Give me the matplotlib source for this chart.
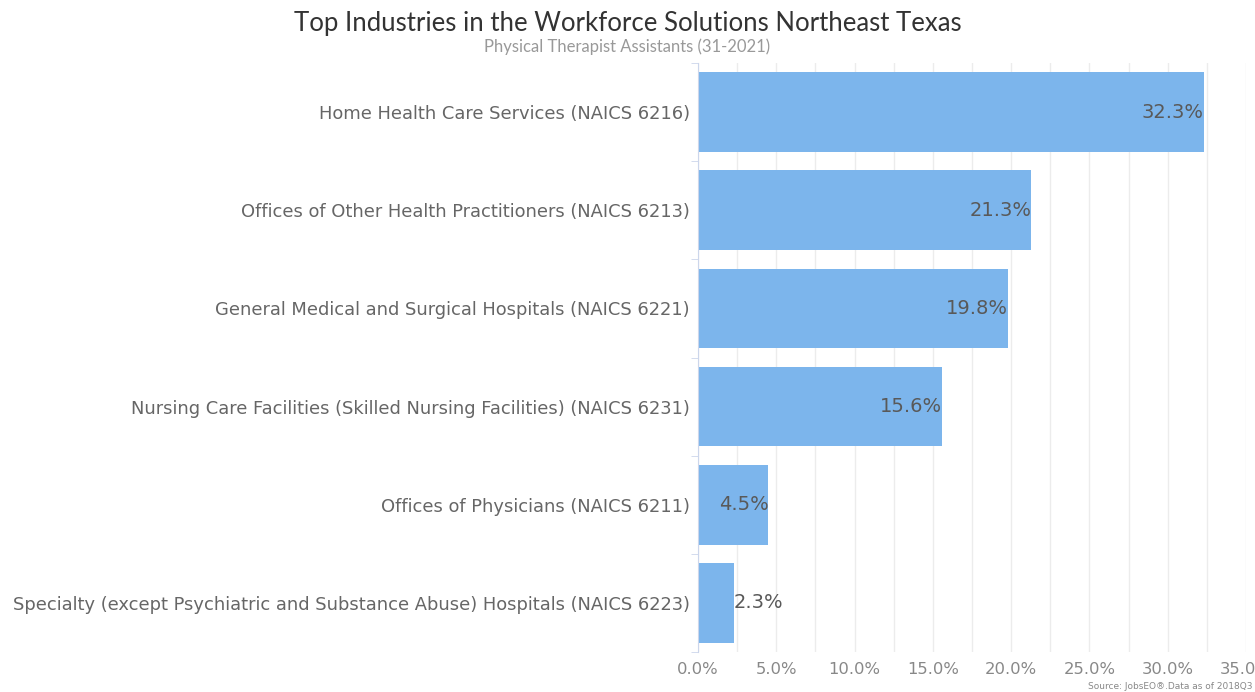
import matplotlib.pyplot as plt
from matplotlib.ticker import MultipleLocator, FuncFormatter

# data
industries = [
    "Home Health Care Services (NAICS 6216)",
    "Offices of Other Health Practitioners (NAICS 6213)",
    "General Medical and Surgical Hospitals (NAICS 6221)",
    "Nursing Care Facilities (Skilled Nursing Facilities) (NAICS 6231)",
    "Offices of Physicians (NAICS 6211)",
    "Specialty (except Psychiatric and Substance Abuse) Hospitals (NAICS 6223)",
]
shares = [32.3, 21.3, 19.8, 15.6, 4.5, 2.3]

bar_color = "#7cb5ec"
txt = "#666666"

fig = plt.figure(figsize=(12.55, 6.92), dpi=100)
ax = fig.add_axes([698 / 1255, 1 - 652 / 692, (1246 - 698) / 1255, (652 - 63) / 692])

ypos = list(range(len(shares)))
ax.barh(ypos, shares, height=0.81, color=bar_color, zorder=2)
ax.set_ylim(len(shares) - 0.5, -0.5)
ax.set_xlim(0, 35)

ax.set_yticks(ypos)
ax.set_yticklabels(industries, fontsize=12.9, color=txt)
ax.tick_params(axis="y", length=0, pad=6)
# small tick marks at band edges
ax.set_yticks([i - 0.5 for i in range(len(shares) + 1)], minor=True)
ax.tick_params(axis="y", which="minor", length=5, color="#ccd6eb")

ax.xaxis.set_major_locator(MultipleLocator(5))
ax.xaxis.set_minor_locator(MultipleLocator(2.5))
ax.xaxis.set_major_formatter(FuncFormatter(lambda v, p: f"{v:.1f}%"))
ax.tick_params(axis="x", which="both", length=0, labelsize=11.8, labelcolor="#888888", pad=7)
ax.grid(axis="x", which="both", color="#ececec", linewidth=1, zorder=0)

for s in ["top", "right", "bottom"]:
    ax.spines[s].set_visible(False)
ax.spines["left"].set_color("#ccd6eb")

for y, v in zip(ypos, shares):
    lab = f"{v:.1f}%"
    if v > 4:
        ax.text(v, y, lab, ha="right", va="center", fontsize=14, color="#595959", zorder=3)
    else:
        ax.text(v, y, lab, ha="left", va="center", fontsize=14, color="#595959", zorder=3)

fig.text(0.5, 1 - 24 / 692, "Top Industries in the Workforce Solutions Northeast Texas",
         ha="center", va="center", fontsize=18.5, family="Lato", color="#333333")
fig.text(0.5, 1 - 47 / 692, "Physical Therapist Assistants (31-2021)",
         ha="center", va="center", fontsize=12, family="Lato", color="#999999")
fig.text(1252 / 1255, 1 - 691 / 692, "Source: JobsEO\u00ae.Data as of 2018Q3",
         ha="right", va="bottom", fontsize=6.5, color="#888888")

fig.savefig("out.png", dpi=100)
